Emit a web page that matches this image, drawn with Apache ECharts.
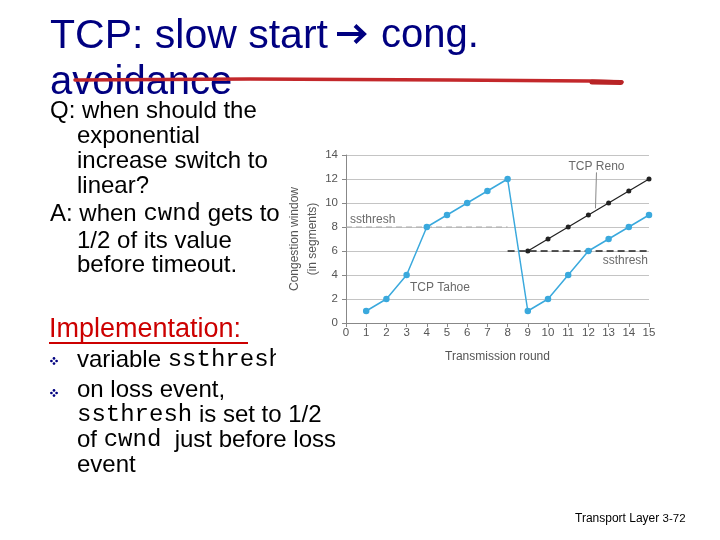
<!DOCTYPE html>
<html>
<head>
<meta charset="utf-8">
<script src="https://cdn.jsdelivr.net/npm/echarts@6/dist/echarts.min.js"></script>
<style>html,body{margin:0;padding:0;background:#fff}#c{width:720px;height:540px}</style>
</head>
<body>
<div id="c"></div>
<script>
// ---- data ----
const rounds = [1,2,3,4,5,6,7,8,9,10,11,12,13,14,15];
const tahoe = [1,2,4,8,9,10,11,12,1,2,4,6,7,8,9];
const renoRounds = [9,10,11,12,13,14,15];
const reno = [6,7,8,9,10,11,12];
const ssthreshTahoe = {from:0, to:8, value:8};
const ssthreshReno = {from:8, to:15, value:6};
const yTicks = [0,2,4,6,8,10,12,14];
const xTicks = [0,1,2,3,4,5,6,7,8,9,10,11,12,13,14,15];
const annotations = [
  {text:'ssthresh', x:0.2, y:8.6, pos:'right'},
  {text:'ssthresh', x:14.95, y:5.2, pos:'left'},
  {text:'TCP Tahoe', x:4.65, y:2.95, pos:'inside'},
  {text:'TCP Reno', x:12.4, y:13.05, pos:'inside'}
];
const renoPointer = [[12.4,12.55],[12.35,9.55]];

const SANS = 'Liberation Sans, Arial, sans-serif';
const MONO = 'Liberation Mono, Courier New, monospace';
const BLUE = '#3aa9dd';
const NAVY = '#000080';

const chart = echarts.init(document.getElementById('c'));
const bodyRich = {
  n:{fontFamily:SANS,fontSize:24,color:'#000',lineHeight:25},
  m:{fontFamily:MONO,fontSize:24,color:'#000',lineHeight:25},
  r:{fontFamily:SANS,fontSize:24,color:'#c00000',lineHeight:25}
};
function txt(x,y,str,z){return {type:'text',left:x,top:y,z:z||1,style:{text:str,rich:bodyRich,font:'24px '+SANS,fill:'#000'}};}
function bullet(cx,cy){
  const d=2.6, r=1.35;
  return [[0,-d],[0,d],[-d,0],[d,0]].map(o=>({type:'circle',z:1,shape:{cx:cx+o[0],cy:cy+o[1],r:r},style:{fill:NAVY}}));
}

chart.setOption({
  animation:false,
  backgroundColor:'#fff',
  grid:{left:346,right:71,top:155,bottom:217,containLabel:false},
  xAxis:{type:'value',min:0,max:15,interval:1,
    name:'Transmission round',nameLocation:'middle',nameGap:28,
    nameTextStyle:{color:'#555',fontSize:12,fontFamily:SANS},
    axisLine:{lineStyle:{color:'#888'}},
    axisTick:{show:true,length:4,lineStyle:{color:'#888'}},
    axisLabel:{color:'#555',fontSize:11.5,fontFamily:SANS,margin:4,
      formatter:v=>xTicks.includes(v)?String(v):''},
    splitLine:{show:false}},
  yAxis:{type:'value',min:0,max:14,interval:2,
    name:'Congestion window\n(in segments)',nameLocation:'middle',nameGap:19,nameRotate:90,
    nameTextStyle:{color:'#555',fontSize:12,fontFamily:SANS,lineHeight:18},
    axisLine:{show:true,lineStyle:{color:'#888'}},
    axisTick:{show:true,length:4,lineStyle:{color:'#888'}},
    axisLabel:{color:'#555',fontSize:11.5,fontFamily:SANS,margin:8,
      formatter:v=>yTicks.includes(v)?String(v):''},
    splitLine:{show:true,lineStyle:{color:'#c4c4c4',width:1}}},
  series:[
    {type:'line',data:[[ssthreshTahoe.from,ssthreshTahoe.value],[ssthreshTahoe.to,ssthreshTahoe.value]],
      symbol:'none',lineStyle:{color:'#aaa',width:1.2,type:[6,4]},z:2,silent:true},
    {type:'line',data:[[ssthreshReno.from,ssthreshReno.value],[ssthreshReno.to,ssthreshReno.value]],
      symbol:'none',lineStyle:{color:'#222',width:1.6,type:[7,4]},z:2,silent:true},
    {type:'line',data:renoPointer,symbol:'none',lineStyle:{color:'#888',width:1},z:2,silent:true},
    {type:'line',data:renoRounds.map((r,i)=>[r,reno[i]]),symbol:'circle',symbolSize:5,
      itemStyle:{color:'#222'},lineStyle:{color:'#222',width:1.3},z:3},
    {type:'line',data:rounds.map((r,i)=>[r,tahoe[i]]),symbol:'circle',symbolSize:6.5,
      itemStyle:{color:BLUE},lineStyle:{color:BLUE,width:1.5},z:4},
    {type:'scatter',symbolSize:0,silent:true,z:5,
      data:annotations.map(a=>({value:[a.x,a.y],label:{show:true,formatter:a.text,position:a.pos,distance:0,
        color:'#444',fontSize:12,fontFamily:SANS}}))}
  ],
  graphic:[
    {type:'text',left:50,top:16,z:1,style:{text:'TCP: slow start',font:'41px '+SANS,fill:NAVY}},
    {type:'polyline',z:1,shape:{points:[[337,34],[363,34]]},style:{stroke:NAVY,lineWidth:4}},
    {type:'polyline',z:1,shape:{points:[[355,25.5],[364,34],[355,42.5]]},style:{stroke:NAVY,lineWidth:4,fill:null,lineJoin:'miter'}},
    {type:'text',left:381,top:16,z:1,style:{text:'cong.',font:'40px '+SANS,fill:NAVY}},
    {type:'text',left:50,top:63,z:1,style:{text:'avoidance',font:'40px '+SANS,fill:NAVY}},
    {type:'polyline',z:2,shape:{points:[[75,80],[250,79],[450,80],[590,81],[622,82]]},
      style:{stroke:'#c3282b',lineWidth:3.5,lineCap:'round'}},
    {type:'polyline',z:2,shape:{points:[[592,82],[621,82.5]]},style:{stroke:'#b82426',lineWidth:5,lineCap:'round'}},
    txt(50,99,'{r|Q:}{n| when should the}'),
    txt(77,124,'{n|exponential}'),
    txt(77,149,'{n|increase switch to}'),
    txt(77,174,'{n|linear?}'),
    txt(50,202,'{r|A:}{n| when }{m|cwnd}{n| gets to}'),
    txt(77,229,'{n|1/2 of its value}'),
    txt(77,253,'{n|before timeout.}'),
    {type:'text',left:49,top:316,z:1,style:{text:'Implementation:',font:'27px '+SANS,fill:'#cc0000'}},
    {type:'line',z:1,shape:{x1:49,y1:343,x2:248,y2:343},style:{stroke:'#cc0000',lineWidth:1.8}},
    ...bullet(54,361),
    ...bullet(54,393),
    txt(77,348,'{n|variable }{m|ssthresh}'),
    {type:'rect',z:3,shape:{x:276,y:344,width:160,height:30},style:{fill:'#fff'}},
    txt(77,378,'{n|on loss event,}'),
    txt(77,403,'{m|ssthresh}{n| is set to 1/2}'),
    txt(77,428,'{n|of }{m|cwnd}{n|  just before loss}'),
    txt(77,453,'{n|event}'),
    {type:'text',left:575,top:513,z:1,style:{text:'{a|Transport Layer }{b|3-72}',
      rich:{a:{fontFamily:SANS,fontSize:12,color:'#000'},b:{fontFamily:SANS,fontSize:11.5,color:'#000'}}}}
  ]
});
</script>
</body>
</html>
